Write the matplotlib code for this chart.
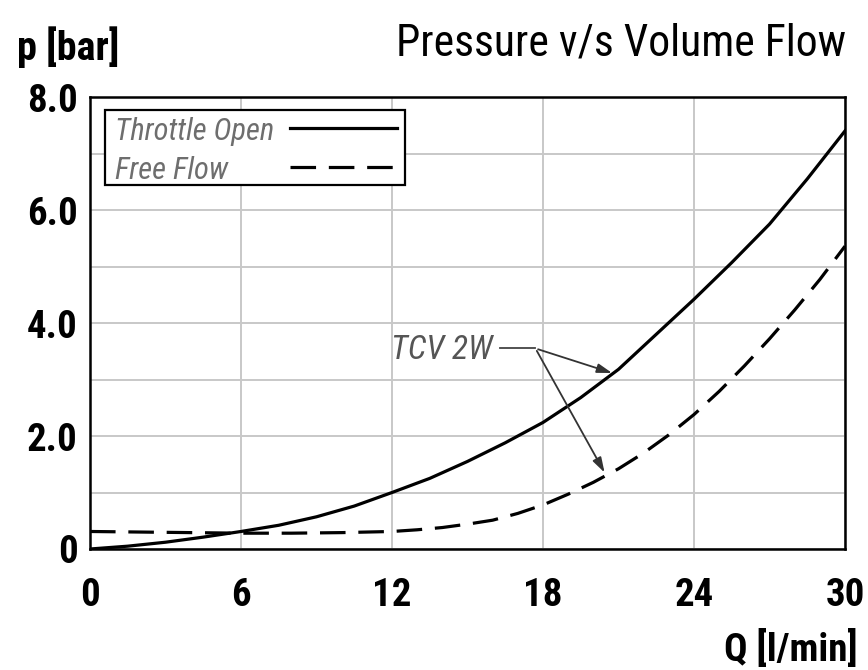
import matplotlib
matplotlib.use("Agg")
import matplotlib.pyplot as plt
from matplotlib import font_manager
from matplotlib.patches import Rectangle

# pick a condensed sans, like the catalogue face
fonts = font_manager.fontManager.ttflist
candidates = ["Roboto Condensed", "Archivo Narrow", "PT Sans Narrow", "Fira Sans Condensed",
              "IBM Plex Sans Condensed", "Barlow Condensed", "Liberation Sans Narrow"]
FONT = "DejaVu Sans"
for c in candidates:
    styles = {(f.weight >= 600, f.style == "italic") for f in fonts if f.name == c}
    if (True, False) in styles and (False, True) in styles:
        FONT = c
        break
plt.rcParams["font.family"] = [FONT, "DejaVu Sans"]

# ==========================
# data
# ==========================
q_open = [0, 1.5, 3, 4.5, 6, 7.5, 9, 10.5, 12, 13.5, 15, 16.5, 18, 19.5, 21, 22.5, 24, 25.5, 27, 28.5, 30]
p_open = [0, 0.05, 0.12, 0.21, 0.31, 0.42, 0.57, 0.76, 1.0, 1.25, 1.55, 1.88, 2.24, 2.68, 3.18, 3.8, 4.42, 5.07, 5.75, 6.55, 7.4]

q_free = [0, 2, 4, 6, 8, 10, 12, 13, 14, 15, 16, 17, 18, 19, 20, 21, 22, 23, 24, 25, 26, 27, 28, 29, 30]
p_free = [0.31, 0.30, 0.29, 0.28, 0.28, 0.29, 0.31, 0.34, 0.38, 0.44, 0.51, 0.63, 0.78, 0.97, 1.18, 1.42, 1.70, 2.02, 2.38, 2.79, 3.24, 3.72, 4.23, 4.77, 5.36]

series_names = ["Throttle Open", "Free Flow"]

x_ticks = [0, 6, 12, 18, 24, 30]
y_ticks = [0, 2, 4, 6, 8]
y_labels = ["0", "2.0", "4.0", "6.0", "8.0"]
y_grid_minor = [1, 3, 5, 7]

# ==========================
# figure
# ==========================
fig = plt.figure(figsize=(8.68, 6.70), dpi=100)
ax = fig.add_axes([0.1037, 0.1806, 0.8698, 0.6746])

ax.plot(q_open, p_open, color="black", linewidth=2.3, zorder=3)
ax.plot(q_free, p_free, color="black", linewidth=2.3, dashes=(8, 4), zorder=3)

ax.set_xlim(0, 30)
ax.set_ylim(0, 8)
ax.set_xticks(x_ticks)
ax.set_yticks(y_ticks)
ax.set_yticks(y_grid_minor, minor=True)
ax.set_yticklabels(y_labels)
ax.tick_params(which="both", length=0)
ax.tick_params(axis="x", pad=20, labelsize=28)
ax.tick_params(axis="y", pad=9, labelsize=28)
for lab in ax.get_xticklabels() + ax.get_yticklabels():
    lab.set_fontweight("bold")

ax.grid(True, which="both", color="#c8c8c8", linewidth=1.4, zorder=0)
for s in ax.spines.values():
    s.set_linewidth(1.8)
    s.set_color("black")

# legend box (text left, line sample right)
ax.add_patch(Rectangle((0.02, 0.805), 0.397, 0.166, transform=ax.transAxes,
                       facecolor="white", edgecolor="black", linewidth=1.6, zorder=4))
leg_y = [0.924, 0.838]
leg_dash = [None, (8, 4)]
for name, yy, d in zip(series_names, leg_y, leg_dash):
    ax.text(0.033, yy, name, transform=ax.transAxes, fontsize=22, style="italic",
            color="#6e6e6e", ha="left", va="center", zorder=5)
    ln, = ax.plot([0.265, 0.407], [yy + 0.007, yy + 0.007], transform=ax.transAxes,
                  color="black", linewidth=2.3, zorder=5)
    if d is not None:
        ln.set_dashes(d)

# TCV 2W callout
ax.text(13.98, 3.53, "TCV 2W", fontsize=24, style="italic", color="#555555",
        ha="center", va="center")
ax.plot([16.3, 17.7], [3.55, 3.55], color="#444444", linewidth=1.3)
arrow = dict(arrowstyle="-|>,head_length=0.9,head_width=0.28", color="#333333", linewidth=1.3)
ax.annotate("", xy=(20.85, 3.1), xytext=(17.7, 3.55), arrowprops=arrow)
ax.annotate("", xy=(20.5, 1.31), xytext=(17.7, 3.55), arrowprops=arrow)

# text around the axes
fig.text(0.02, 0.93, "p [bar]", fontsize=29, fontweight="bold", ha="left", va="center")
fig.text(0.975, 0.935, "Pressure v/s Volume Flow", fontsize=31.5, ha="right", va="center")
fig.text(0.988, 0.03, "Q [l/min]", fontsize=28, fontweight="bold", ha="right", va="center")

plt.savefig("out.png", dpi=100)
